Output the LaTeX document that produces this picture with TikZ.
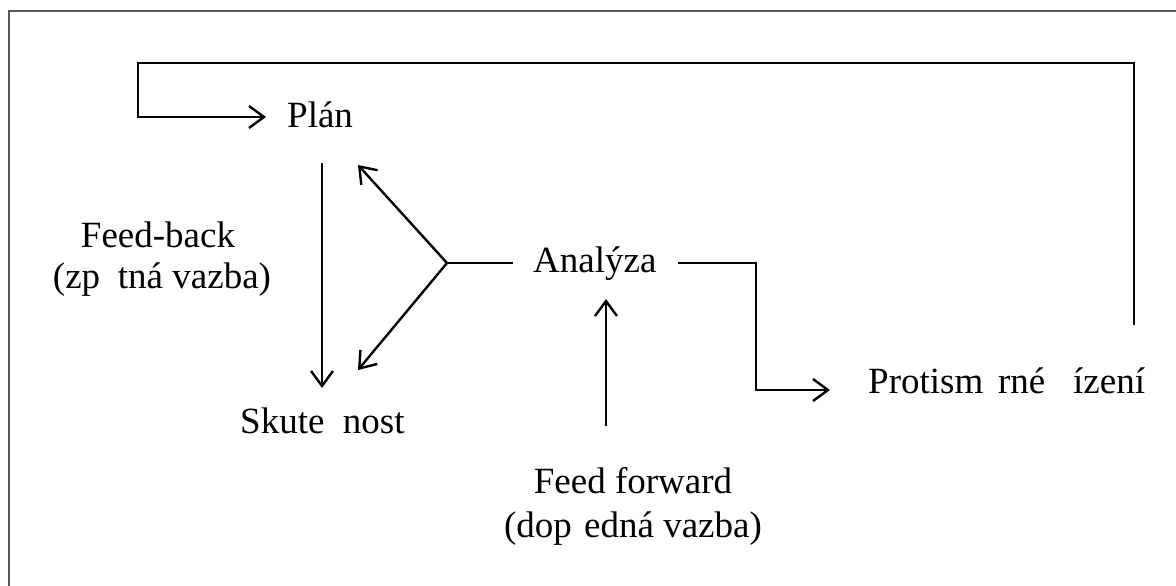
\documentclass[tikz,border=0pt]{standalone}
\usepackage{fontspec}
\setmainfont{Liberation Serif}
\usetikzlibrary{arrows.meta}
\definecolor{framegray}{HTML}{5A5A5A}
\begin{document}
\begin{tikzpicture}[x=1pt,y=-1pt,
  lbl/.style={inner sep=0pt,font=\fontsize{37pt}{42pt}\selectfont},
  conn/.style={line width=2.4pt,line cap=butt,line join=miter},
  arr/.style={conn,-{Straight Barb[length=15pt,width=22pt,line width=2.4pt]}}]
\useasboundingbox (0,0) rectangle (1176,586);
% outer frame (only top and left edges inside the page)
\draw[framegray,line width=2pt] (1180,11) -- (9,11) -- (9,590);

% labels
\node[lbl,anchor=base west] (plan) at (287,127) {Plán};
\node[lbl,anchor=base west] (skut) at (240,433) {Skute\hspace{0.5em}nost};
\node[lbl,anchor=base west] (anal) at (533,272) {Analýza};
\node[lbl,anchor=base west] (prot) at (868,393) {Protism\hspace{0.4em}rné\hspace{0.75em}ízení};
\node[lbl,anchor=base] (fba) at (158,247) {Feed-back};
\node[lbl,anchor=base] (fbb) at (162,288) {(zp\hspace{0.48em}tná vazba)};
\node[lbl,anchor=base] (ffa) at (633,493) {Feed forward};
\node[lbl,anchor=base] (ffb) at (633,537) {(dop\hspace{0.33em}edná vazba)};

% connector end points
\coordinate (planin)  at (266,117);
\coordinate (planout) at (322,163);
\coordinate (skutin)  at (322,388);
\coordinate (fork)    at (447,263);
\coordinate (forkup)  at (358,165);
\coordinate (forkdn)  at (358,370);
\coordinate (analin)  at (513,263);
\coordinate (analout) at (678,263);
\coordinate (bendA)   at (756,263);
\coordinate (bendB)   at (756,390);
\coordinate (protin)  at (830,390);
\coordinate (ffout)   at (606,426);
\coordinate (ffin)    at (606,299);
\coordinate (loopst)  at (1134,325);
\coordinate (loopA)   at (1134,63);
\coordinate (loopB)   at (138,63);
\coordinate (loopC)   at (138,117);

% feedback: plan to reality
\draw[arr] (planout) -- (skutin);
% analysis forks back to plan and reality
\draw[conn] (analin) -- (fork);
\draw[arr] (fork) -- (forkup);
\draw[arr] (fork) -- (forkdn);
% analysis to counter-directional control
\draw[arr] (analout) -- (bendA) -- (bendB) -- (protin);
% feed forward into analysis
\draw[arr] (ffout) -- (ffin);
% control loop back to plan
\draw[arr] (loopst) -- (loopA) -- (loopB) -- (loopC) -- (planin);
\end{tikzpicture}
\end{document}
